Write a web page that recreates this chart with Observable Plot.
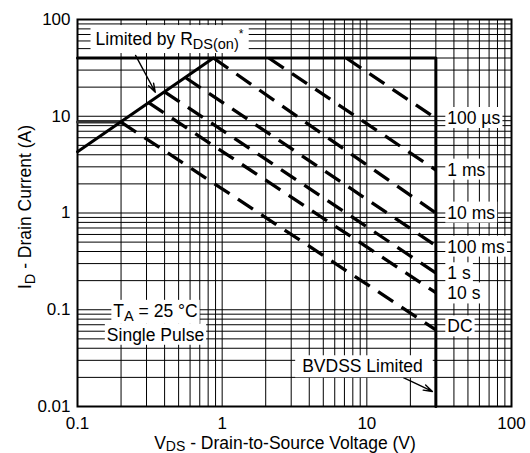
<!DOCTYPE html>
<html><head><meta charset="utf-8">
<script src="https://cdn.jsdelivr.net/npm/d3@7"></script>
<script src="https://cdn.jsdelivr.net/npm/@observablehq/plot@0.6"></script>
<style>html,body{margin:0;padding:0;background:#fff;overflow:hidden}</style>
</head><body><div id="chart"></div>
<script>
// axis ticks
const xTicks = [0.1, 1, 10, 100];
const yTicks = [0.01, 0.1, 1, 10, 100];
const gridMultipliers = [1, 2, 3, 4, 5, 6, 7, 8, 9];
const xDecades = [0.1, 1, 10];
const yDecades = [0.01, 0.1, 1, 10];

// pulse-width curves (start on limit, end at BVDSS)
const pulseLabels = ["100 µs", "1 ms", "10 ms", "100 ms", "1 s", "10 s", "DC"];
const pulseStartV = [7.2, 2.1, 0.87, 0.56, 0.40, 0.31, 0.2];
const pulseStartI = [40, 40, 40, 25, 17.9, 13.8, 8.7];
const pulseEndV = [30, 30, 30, 30, 30, 30, 30];
const pulseEndI = [9.5, 2.78, 1.0, 0.46, 0.24, 0.15, 0.062];
const pulseLabelV = [36, 36, 36, 36, 36, 36, 36];
const pulseLabelI = [9.5, 2.78, 1.0, 0.445, 0.236, 0.146, 0.0667];

// limit lines
const currentLimitV = [0.1, 30, 30];
const currentLimitI = [40, 40, 0.01];
const rdsV = [0.1, 0.87];
const rdsI = [4.3, 40];
const dcLimitV = [0.1, 0.2];
const dcLimitI = [8.7, 8.7];

// annotations
const rdsNote = "Limited by RDS(on)*";
const rdsNoteV = [0.1332];
const rdsNoteI = [62.2];
const noteText = ["TA = 25 °C", "Single Pulse", "BVDSS Limited"];
const noteV = [0.346, 0.346, 9.33];
const noteI = [0.0965, 0.0546, 0.0258];
const arrowV1 = [0.252, 17.9];
const arrowI1 = [42.5, 0.0199];
const arrowV2 = [0.345, 28.4];
const arrowI2 = [17.7, 0.0143];

const xTitle = "VDS - Drain-to-Source Voltage (V)";
const yTitle = "ID - Drain Current (A)";

const xGrid = xDecades.flatMap(d => gridMultipliers.map(m => d * m)).concat([100]);
const yGrid = yDecades.flatMap(d => gridMultipliers.map(m => d * m)).concat([100]);

const pulseRows = pulseLabels.map((l, i) => ({l, x1: pulseStartV[i], y1: pulseStartI[i], x2: pulseEndV[i], y2: pulseEndI[i], lx: pulseLabelV[i], ly: pulseLabelI[i]}));
const limitRows = currentLimitV.map((v, i) => ({x: v, y: currentLimitI[i]}));
const rdsRows = rdsV.map((v, i) => ({x: v, y: rdsI[i]}));
const dcRows = dcLimitV.map((v, i) => ({x: v, y: dcLimitI[i]}));
const rdsNoteRows = rdsNoteV.map((v, i) => ({t: rdsNote, x: v, y: rdsNoteI[i]}));
const noteRows = noteText.map((t, i) => ({t, x: noteV[i], y: noteI[i]}));
const arrowRows = arrowV1.map((v, i) => ({x1: v, y1: arrowI1[i], x2: arrowV2[i], y2: arrowI2[i]}));

const fmt = d => String(d);
const FS = 17.5;

const plot = Plot.plot({
  width: 530, height: 453,
  marginLeft: 77, marginRight: 19, marginTop: 19, marginBottom: 47,
  x: {type: "log", domain: [0.1, 100]},
  y: {type: "log", domain: [0.01, 100]},
  style: {fontFamily: "'Liberation Sans', Arial, Helvetica, sans-serif", fontSize: "17px", color: "#000", background: "#fff"},
  marks: [
    Plot.ruleX(xGrid, {stroke: "#000", strokeWidth: 1}),
    Plot.ruleY(yGrid, {stroke: "#000", strokeWidth: 1}),
    Plot.axisX(xTicks, {tickSize: 0, tickPadding: 10, tickFormat: fmt, label: null, fontSize: 17}),
    Plot.axisY(yTicks, {tickSize: 0, tickPadding: 7, tickFormat: fmt, label: null, fontSize: 17}),
    Plot.frame({stroke: "#000", strokeWidth: 2}),
    Plot.line(limitRows, {x: "x", y: "y", stroke: "#000", strokeWidth: 3}),
    Plot.line(dcRows, {x: "x", y: "y", stroke: "#333", strokeWidth: 3}),
    Plot.line(rdsRows, {x: "x", y: "y", stroke: "#000", strokeWidth: 3}),
    Plot.link(pulseRows, {x1: "x1", y1: "y1", x2: "x2", y2: "y2", stroke: "#000", strokeWidth: 3.3, strokeDasharray: "18,10"}),
    Plot.arrow(arrowRows, {x1: "x1", y1: "y1", x2: "x2", y2: "y2", stroke: "#000", strokeWidth: 1.4, headLength: 10, headAngle: 35}),
    Plot.text(pulseRows, {x: "lx", y: "ly", text: "l", textAnchor: "start", fill: "#000", fontSize: FS}),
    Plot.text(rdsNoteRows, {x: "x", y: "y", text: "t", textAnchor: "start", fill: "#000", fontSize: FS}),
    Plot.text(noteRows, {x: "x", y: "y", text: "t", textAnchor: "middle", fill: "#000", fontSize: FS}),
    Plot.text([xTitle], {frameAnchor: "bottom", textAnchor: "middle", lineAnchor: "middle", dy: 36.5, dx: -9.5, fill: "#000", fontSize: FS}),
    Plot.text([yTitle], {frameAnchor: "left", textAnchor: "middle", lineAnchor: "middle", rotate: -90, dx: -52, dy: -6, fill: "#000", fontSize: FS})
  ]
});
document.getElementById("chart").append(plot);

const richParts = {
  "Limited by RDS(on)*": [["Limited by R"], ["DS(on)", "sub"], ["*", "sup"]],
  "TA = 25 °C": [["T"], ["A", "sub"], [" = 25 °C"]],
  "VDS - Drain-to-Source Voltage (V)": [["V"], ["DS", "sub", 2, 14], [" - Drain-to-Source Voltage (V)"]],
  "ID - Drain Current (A)": [["I"], ["D", "sub"], [" - Drain Current (A)"]]
};
const boxed = new Set([...pulseLabels, ...noteText, rdsNote]);
const pads = {"Limited by RDS(on)*": [5, 5, 2, 1], "BVDSS Limited": [7, 10, 1, 1]};

d3.select(plot).selectAll("text").each(function() {
  const s = this.textContent;
  if (richParts[s]) {
    const t = d3.select(this);
    t.text(null);
    let shift = 0;
    for (const [str, kind, amt, size] of richParts[s]) {
      const target = kind === "sub" ? (amt || 4) : kind === "sup" ? -7 : 0;
      const ts = t.append("tspan").text(str);
      if (kind === "sub") ts.attr("font-size", size || 14.5);
      if (kind === "sup") ts.attr("font-size", 12);
      const d = target - shift;
      if (d) ts.attr("dy", d);
      shift = target;
    }
  }
  if (boxed.has(s)) {
    const b = this.getBBox();
    const [pl, pr, pt, pb] = pads[s] || [2, 2, 1, 0];
    const r = document.createElementNS("http://www.w3.org/2000/svg", "rect");
    r.setAttribute("x", b.x - pl);
    r.setAttribute("y", b.y - pt);
    r.setAttribute("width", b.width + pl + pr);
    r.setAttribute("height", b.height + pt + pb);
    r.setAttribute("fill", "#fff");
    r.setAttribute("stroke", "none");
    if (this.getAttribute("transform")) r.setAttribute("transform", this.getAttribute("transform"));
    this.parentNode.insertBefore(r, this);
  }
});
</script>
</body></html>
